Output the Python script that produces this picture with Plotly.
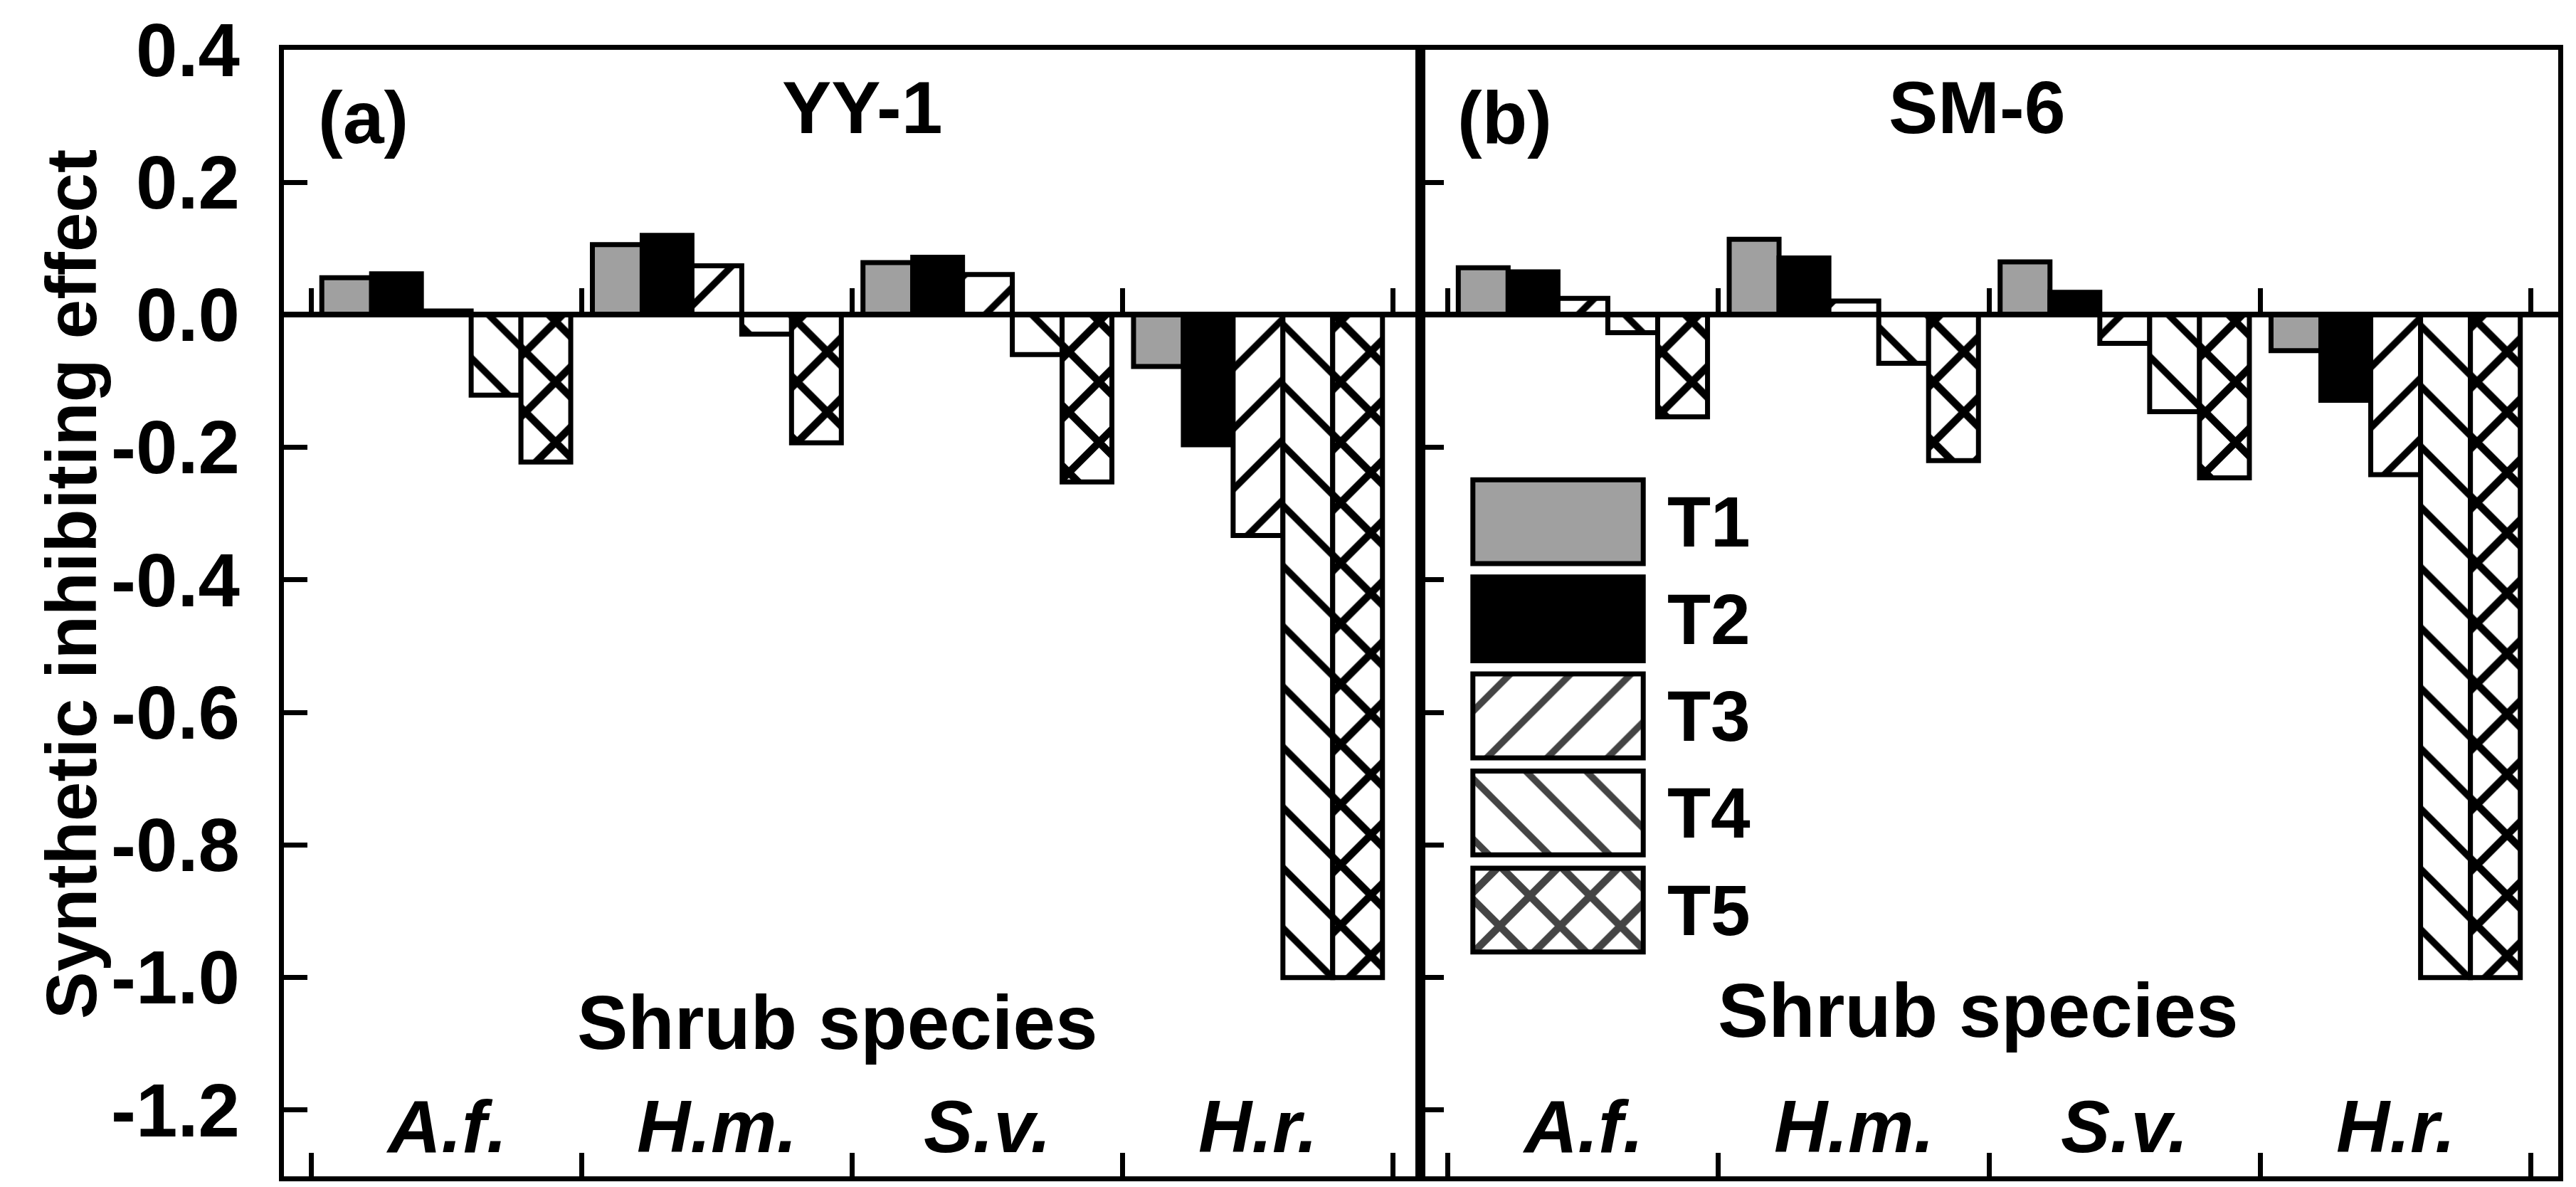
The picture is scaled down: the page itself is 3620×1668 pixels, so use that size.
import plotly.graph_objects as go

# ---------------- data ----------------
categories = ["A.f.", "H.m.", "S.v.", "H.r."]
cat_pos = [1, 2, 3, 4]
boundaries = [0.5, 1.5, 2.5, 3.5, 4.5]
treatments = ["T1", "T2", "T3", "T4", "T5"]

# panel (a) YY-1
yy1_t1 = [0.056, 0.106, 0.079, -0.078]
yy1_t2 = [0.062, 0.120, 0.087, -0.196]
yy1_t3 = [0.006, 0.074, 0.061, -0.333]
yy1_t4 = [-0.121, -0.029, -0.060, -1.0]
yy1_t5 = [-0.222, -0.193, -0.252, -1.0]

# panel (b) SM-6
sm6_t1 = [0.071, 0.114, 0.080, -0.054]
sm6_t2 = [0.065, 0.086, 0.034, -0.129]
sm6_t3 = [0.025, 0.021, -0.043, -0.241]
sm6_t4 = [-0.027, -0.073, -0.146, -1.0]
sm6_t5 = [-0.154, -0.220, -0.246, -1.0]

y_tickvals = [0.4, 0.2, 0.0, -0.2, -0.4, -0.6, -0.8, -1.0, -1.2]
y_ticktext = ["0.4", "0.2", "0.0", "-0.2", "-0.4", "-0.6", "-0.8", "-1.0", "-1.2"]
y_range = [-1.3, 0.4]
x_range = [0.4, 4.6]

# ---------------- styles ----------------
FONT = "Liberation Sans, Arial, sans-serif"
fills = ["#a0a0a0", "#000000", "#ffffff", "#ffffff", "#ffffff"]
patterns = ["", "", "/", "\\", "x"]
solids = [0.2, 0.2, 0.16, 0.16, 0.32]
LW = 7

W, H = 3620, 1668
xL, xM, xR = 391 / W, 1988 / W, 3587 / W
yB, yT = 1 - 1645 / H, 1 - 62 / H
zero_pos = yB + (0 - y_range[0]) / (y_range[1] - y_range[0]) * (yT - yB)

fig = go.Figure()

panels = [
    ("x", "y", [yy1_t1, yy1_t2, yy1_t3, yy1_t4, yy1_t5]),
    ("x2", "y2", [sm6_t1, sm6_t2, sm6_t3, sm6_t4, sm6_t5]),
]
for xa, ya, series in panels:
    for name, vals, fc, pat, sol in zip(treatments, series, fills, patterns, solids):
        fig.add_trace(go.Bar(
            x=cat_pos, y=vals, name=name, xaxis=xa, yaxis=ya,
            showlegend=False,
            marker=dict(
                color=fc,
                line=dict(color="black", width=LW),
                pattern=dict(shape=pat, bgcolor=fc, fgcolor="black",
                             fgopacity=1, size=60, solidity=sol),
            ),
        ))

# empty traces so that the zero-line axes get drawn
fig.add_trace(go.Scatter(x=[], y=[], xaxis="x3", yaxis="y", showlegend=False))
fig.add_trace(go.Scatter(x=[], y=[], xaxis="x4", yaxis="y2", showlegend=False))

# legend drawn as a small bar subplot
fig.add_trace(go.Bar(
    y=treatments, x=[1] * len(treatments), orientation="h", base=0,
    width=0.864, xaxis="x5", yaxis="y5", showlegend=False,
    marker=dict(
        color=fills,
        line=dict(color="black", width=LW),
        pattern=dict(shape=patterns, bgcolor=fills, fgcolor="black",
                     fgopacity=1, size=60, solidity=solids),
    ),
))

tickfont = dict(family=FONT, size=105, color="black", weight="bold")

xbase = dict(range=x_range, tickvals=boundaries, ticks="inside", ticklen=33,
             tickwidth=LW, tickcolor="black", showticklabels=False,
             showline=True, linewidth=LW, linecolor="black", mirror=True,
             showgrid=False, zeroline=False)
ybase = dict(range=y_range, tickvals=y_tickvals, ticktext=y_ticktext,
             ticks="inside", ticklen=33, tickwidth=LW, tickcolor="black",
             showline=True, linewidth=LW, linecolor="black", mirror=True,
             showgrid=False, zeroline=False, tickfont=tickfont)
zbase = dict(range=x_range, tickvals=boundaries, ticks="inside", ticklen=33,
             tickwidth=LW, tickcolor="black", showticklabels=False,
             showline=True, linewidth=8, linecolor="black",
             showgrid=False, zeroline=False, anchor="free", position=zero_pos)

fig.update_layout(
    width=W, height=H,
    margin=dict(l=0, r=0, t=0, b=0, pad=0, autoexpand=False),
    paper_bgcolor="white", plot_bgcolor="rgba(0,0,0,0)",
    barmode="group", bargap=0.08, bargroupgap=0,
    xaxis=dict(domain=[xL, xM], anchor="y", **xbase),
    xaxis2=dict(domain=[xM, xR], anchor="y2", **xbase),
    yaxis=dict(domain=[yB, yT], anchor="x", ticklabelstandoff=34, **ybase),
    yaxis2=dict(domain=[yB, yT], anchor="x2", showticklabels=False,
                **{k: v for k, v in ybase.items() if k != "tickfont"}),
    xaxis3=dict(overlaying="x", **zbase),
    xaxis4=dict(overlaying="x2", **zbase),
    xaxis5=dict(domain=[2057 / W, 2306 / W], anchor="y5", range=[-0.02, 1.02],
                visible=False),
    yaxis5=dict(domain=[1 - 1339 / H, 1 - 657 / H], anchor="x5",
                autorange="reversed", side="right", ticks="",
                showline=False, showgrid=False, zeroline=False,
                tickfont=dict(family=FONT, size=100, color="black", weight="bold"),
                ticklabelstandoff=28),
    font=dict(family=FONT, color="black"),
)

ann_font = dict(family=FONT, size=104, color="black", weight="bold")
ann = []
# y axis title
ann.append(dict(text="Synthetic inhibiting effect", xref="paper", yref="paper",
                x=92 / W, y=1 - 813 / H, textangle=-90, showarrow=False,
                xanchor="center", yanchor="middle",
                font=dict(family=FONT, size=100, color="black", weight="bold")))
# panel labels and titles
for xr, yr, lab, lx, title, tx in [("x domain", "y", "(a)", 0.029, "YY-1", 0.509),
                                   ("x2 domain", "y2", "(b)", 0.031, "SM-6", 0.489)]:
    ann.append(dict(text=lab, xref=xr, yref=yr, x=lx, y=0.298, showarrow=False,
                    xanchor="left", yanchor="middle", font=ann_font))
    ann.append(dict(text=title, xref=xr, yref=yr, x=tx, y=0.313, showarrow=False,
                    xanchor="center", yanchor="middle", font=ann_font))
# x axis titles inside the plots
for xr, yr, sx, sy in [("x domain", "y", 0.487, -1.068), ("x2 domain", "y2", 0.49, -1.05)]:
    ann.append(dict(text="Shrub species", xref=xr, yref=yr, x=sx, y=sy,
                    showarrow=False, xanchor="center", yanchor="middle",
                    font=dict(family=FONT, size=107, color="black", weight="bold")))
# category labels
for xr, yr in [("x", "y"), ("x2", "y2")]:
    for c, p in zip(categories, cat_pos):
        ann.append(dict(text=c, xref=xr, yref=yr, x=p, y=-1.225, showarrow=False,
                        xanchor="center", yanchor="middle",
                        font=dict(family=FONT, size=104, color="black",
                                  weight="bold", style="italic")))
fig.update_layout(annotations=ann)

fig.write_html("out.html")
